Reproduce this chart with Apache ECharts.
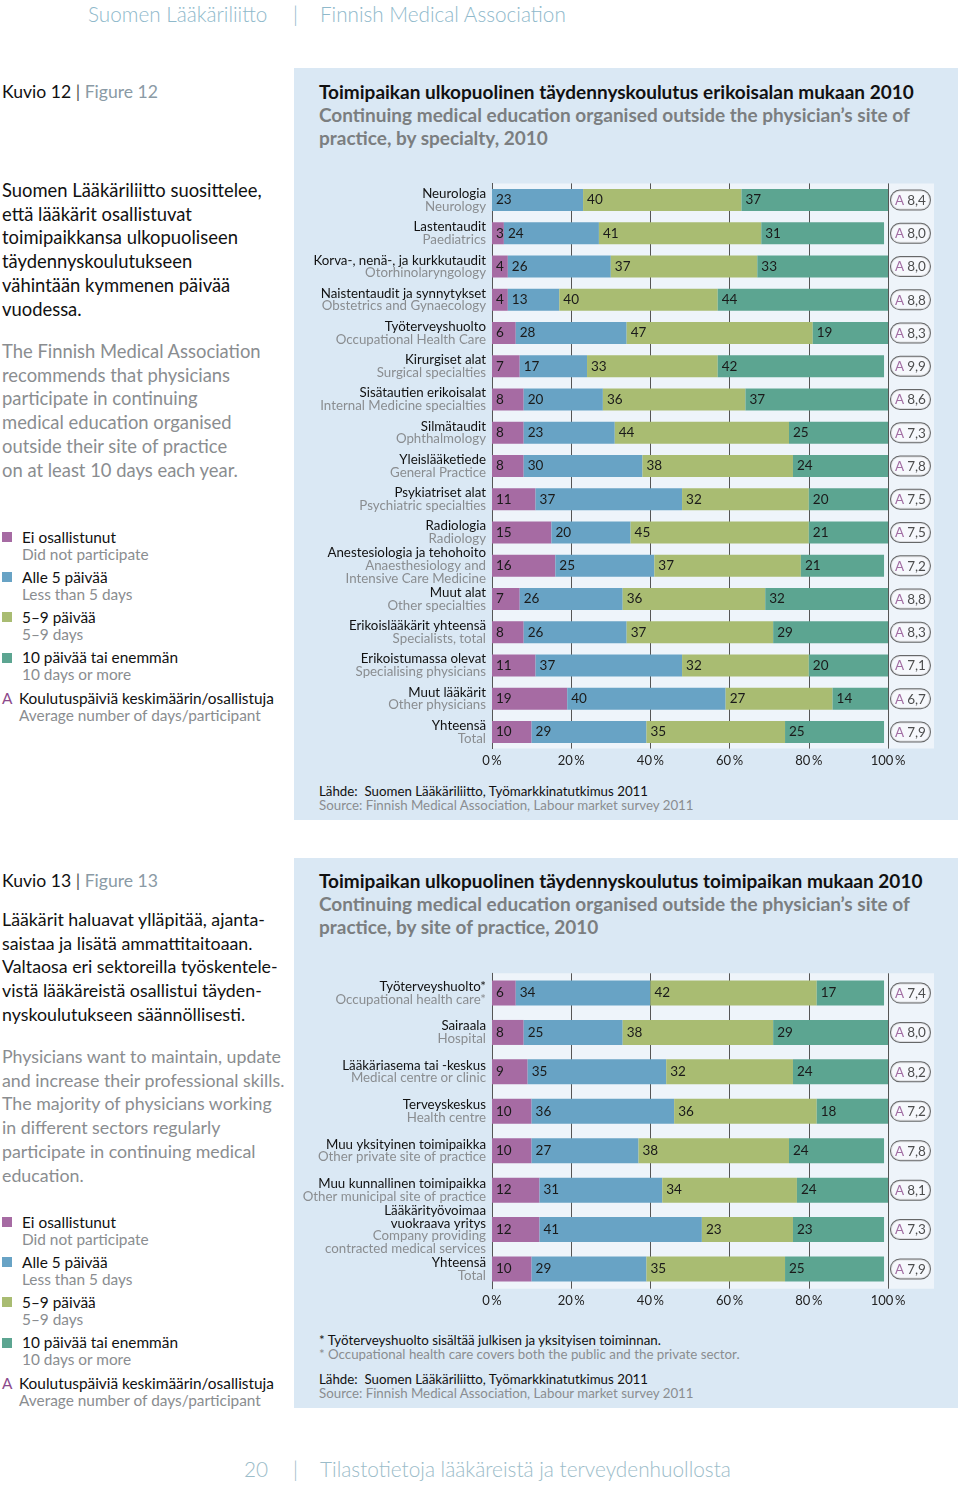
<!DOCTYPE html>
<html><head><meta charset="utf-8">
<script src="https://cdn.jsdelivr.net/npm/echarts@6/dist/echarts.min.js"></script>
<style>
html,body{margin:0;padding:0;background:#fff;}
body{width:960px;height:1487px;position:relative;overflow:hidden;font-family:Lato,"Open Sans","Noto Sans",sans-serif;}
.a{position:absolute;white-space:nowrap;}
.hdr{font-size:20.7px;line-height:24px;color:#8fb9cb;font-weight:300;}
.panel{position:absolute;background:#dae8f4;}
.title{font-size:19px;line-height:23px;font-weight:700;color:#111;}
.title .g{color:#7b7e80;}
.kuvio{font-size:17.6px;line-height:24px;color:#111;}
.kuvio .g{color:#8a9aa5;}
.para{font-size:18.4px;line-height:23.7px;color:#111;}
.para.g{color:#8a8d90;}
.para.s2{font-size:17.8px;}
.leg{font-size:15.4px;line-height:17px;color:#111;}
.leg .g{color:#8a8d90;}
.sq{position:absolute;width:10px;height:10px;}
.src{font-size:13.3px;line-height:14px;color:#111;}
.src .g{color:#8a8d90;}
.ftr{font-size:20.8px;line-height:24px;color:#9bbcc9;font-weight:300;}
</style></head>
<body>
<div class="a hdr" style="left:88px;top:2px;">Suomen Lääkäriliitto</div>
<div class="a hdr" style="left:293px;top:2px;">|</div>
<div class="a hdr" style="left:320px;top:2px;">Finnish Medical Association</div>

<div class="panel" style="left:294px;top:68px;width:664px;height:752px;"></div>
<div class="panel" style="left:294px;top:858px;width:664px;height:550px;"></div>

<div class="a kuvio" style="left:2px;top:80px;">Kuvio 12 <span style="color:#555">|</span> <span class="g">Figure 12</span></div>
<div class="a title" style="left:319px;top:80px;">Toimipaikan ulkopuolinen täydennyskoulutus erikoisalan mukaan 2010<br><span class="g">Continuing medical education organised outside the physician’s site of<br>practice, by specialty, 2010</span></div>

<div class="a para" style="left:2px;top:179px;">Suomen Lääkäriliitto suosittelee,<br>että lääkärit osallistuvat<br>toimipaikkansa ulkopuoliseen<br>täydennyskoulutukseen<br>vähintään kymmenen päivää<br>vuodessa.</div>
<div class="a para g" style="left:2px;top:340px;">The Finnish Medical Association<br>recommends that physicians<br>participate in continuing<br>medical education organised<br>outside their site of practice<br>on at least 10 days each year.</div>

<div id="legend1"></div>

<div id="c1" class="a" style="left:294px;top:170px;width:664px;height:610px;"></div>
<div class="a src" style="left:319px;top:784px;">Lähde:&nbsp;&nbsp;Suomen Lääkäriliitto, Työmarkkinatutkimus 2011<br><span class="g">Source:&nbsp;Finnish Medical Association, Labour market survey 2011</span></div>

<div class="a kuvio" style="left:2px;top:869px;">Kuvio 13 <span style="color:#555">|</span> <span class="g">Figure 13</span></div>
<div class="a title" style="left:319px;top:869px;">Toimipaikan ulkopuolinen täydennyskoulutus toimipaikan mukaan 2010<br><span class="g">Continuing medical education organised outside the physician’s site of<br>practice, by site of practice, 2010</span></div>

<div class="a para s2" style="left:2px;top:908px;">Lääkärit haluavat ylläpitää, ajanta-<br>saistaa ja lisätä ammattitaitoaan.<br>Valtaosa eri sektoreilla työskentele-<br>vistä lääkäreistä osallistui täyden-<br>nyskoulutukseen säännöllisesti.</div>
<div class="a para g s2" style="left:2px;top:1045px;">Physicians want to maintain, update<br>and increase their professional skills.<br>The majority of physicians working<br>in different sectors regularly<br>participate in continuing medical<br>education.</div>

<div id="legend2"></div>

<div id="c2" class="a" style="left:294px;top:960px;width:664px;height:360px;"></div>
<div class="a src" style="left:319px;top:1333px;">* Työterveyshuolto sisältää julkisen ja yksityisen toiminnan.<br><span class="g">* Occupational health care covers both the public and the private sector.</span></div>
<div class="a src" style="left:319px;top:1372px;">Lähde:&nbsp;&nbsp;Suomen Lääkäriliitto, Työmarkkinatutkimus 2011<br><span class="g">Source:&nbsp;Finnish Medical Association, Labour market survey 2011</span></div>

<div class="a ftr" style="left:244px;top:1457px;">20</div>
<div class="a ftr" style="left:293px;top:1457px;">|</div>
<div class="a ftr" style="left:320px;top:1457px;">Tilastotietoja lääkäreistä ja terveydenhuollosta</div>

<script>
// ---------- DATA ----------
const seriesNamesFi = ['Ei osallistunut', 'Alle 5 päivää', '5–9 päivää', '10 päivää tai enemmän'];
const seriesNamesEn = ['Did not participate', 'Less than 5 days', '5–9 days', '10 days or more'];
const avgLabelFi = 'Koulutuspäiviä keskimäärin/osallistuja';
const avgLabelEn = 'Average number of days/participant';
const tickLabels = ['0', '20', '40', '60', '80', '100'];

const cats1Fi = ['Neurologia','Lastentaudit','Korva-, nenä-, ja kurkkutaudit','Naistentaudit ja synnytykset','Työterveyshuolto','Kirurgiset alat','Sisätautien erikoisalat','Silmätaudit','Yleislääketiede','Psykiatriset alat','Radiologia','Anestesiologia ja tehohoito','Muut alat','Erikoislääkärit yhteensä','Erikoistumassa olevat','Muut lääkärit','Yhteensä'];
const cats1En = ['Neurology','Paediatrics','Otorhinolaryngology','Obstetrics and Gynaecology','Occupational Health Care','Surgical specialties','Internal Medicine specialties','Ophthalmology','General Practice','Psychiatric specialties','Radiology','Anaesthesiology and\nIntensive Care Medicine','Other specialties','Specialists, total','Specialising physicians','Other physicians','Total'];
const notPart1 = [0,3,4,4,6,7,8,8,8,11,15,16,7,8,11,19,10];
const under5_1 = [23,24,26,13,28,17,20,23,30,37,20,25,26,26,37,40,29];
const d59_1    = [40,41,37,40,47,33,36,44,38,32,45,37,36,37,32,27,35];
const over10_1 = [37,31,33,44,19,42,37,25,24,20,21,21,32,29,20,14,25];
const avg1     = ['8,4','8,0','8,0','8,8','8,3','9,9','8,6','7,3','7,8','7,5','7,5','7,2','8,8','8,3','7,1','6,7','7,9'];

const cats2Fi = ['Työterveyshuolto*','Sairaala','Lääkäriasema tai -keskus','Terveyskeskus','Muu yksityinen toimipaikka','Muu kunnallinen toimipaikka','Lääkärityövoimaa\nvuokraava yritys','Yhteensä'];
const cats2En = ['Occupational health care*','Hospital','Medical centre or clinic','Health centre','Other private site of practice','Other municipal site of practice','Company providing\ncontracted medical services','Total'];
const notPart2 = [6,8,9,10,10,12,12,10];
const under5_2 = [34,25,35,36,27,31,41,29];
const d59_2    = [42,38,32,36,38,34,23,35];
const over10_2 = [17,29,24,18,24,24,23,25];
const avg2     = ['7,4','8,0','8,2','7,2','7,8','8,1','7,3','7,9'];

// ---------- STYLE ----------
const COLORS = ['#a66ba3', '#68a3c5', '#a9bc72', '#5ca591'];
const AXIS_MAX = 100;
const FONT = 'Lato, "Open Sans", "Noto Sans", sans-serif';

function legendHtml(top) {
  let h = '';
  for (let i = 0; i < 4; i++) {
    const y = top + i * 40.2;
    h += '<div class="sq" style="left:2px;top:' + (y - 5) + 'px;background:' + COLORS[i] + '"></div>';
    h += '<div class="a leg" style="left:22px;top:' + (y - 8.5) + 'px;">' + seriesNamesFi[i] + '<br><span class="g">' + seriesNamesEn[i] + '</span></div>';
  }
  const y = top + 4 * 40.2 + 0.5;
  h += '<div class="a leg" style="left:2px;top:' + (y - 8.5) + 'px;"><span style="color:#8c4a8c">A</span></div>';
  h += '<div class="a leg" style="left:19px;top:' + (y - 8.5) + 'px;">' + avgLabelFi + '<br><span class="g">' + avgLabelEn + '</span></div>';
  return h;
}
document.getElementById('legend1').innerHTML = legendHtml(537);
document.getElementById('legend2').innerHTML = legendHtml(1222);

function makeOption(catsFi, catsEn, vals, avgs, gridTop, gridH, barW) {
  const gridLeft = 198, gridW = 396;
  const series = vals.map((d, k) => ({
    type: 'bar', stack: 'all', name: seriesNamesFi[k], data: d, barWidth: barW,
    itemStyle: { color: COLORS[k] }, z: 3,
    label: {
      show: true, position: 'insideLeft', distance: 4,
      color: '#1a1a1a', fontSize: 13.5, fontFamily: FONT,
      formatter: p => (p.value ? String(p.value) : '')
    }
  }));
  series.push({
    type: 'scatter', symbolSize: 0, z: 5, silent: true,
    data: avgs.map((a, i) => [AXIS_MAX, catsFi[i]]),
    label: {
      show: true, position: 'right', distance: 3,
      formatter: p => '{a|A} {v|' + avgs[p.dataIndex] + '}',
      backgroundColor: '#f7f9fc', borderColor: '#444', borderWidth: 1, borderRadius: 9,
      padding: [3, 4, 2, 4],
      rich: {
        a: { color: '#8c4a8c', fontSize: 13.5, fontFamily: FONT },
        v: { color: '#222', fontSize: 13.5, fontFamily: FONT }
      }
    }
  });
  return {
    animation: false,
    textStyle: { fontFamily: FONT },
    graphic: [{
      type: 'rect', z: -10, silent: true,
      shape: { x: gridLeft, y: gridTop, width: 442, height: gridH },
      style: { fill: '#eef4fa' }
    }],
    grid: { left: gridLeft, top: gridTop, width: gridW, height: gridH },
    xAxis: {
      type: 'value', min: 0, max: AXIS_MAX, interval: 20,
      axisLine: { show: false }, axisTick: { show: false },
      splitLine: { show: true, lineStyle: { color: '#555', width: 1 } },
      axisLabel: {
        margin: 6, color: '#222', fontSize: 13, fontFamily: FONT,
        formatter: (v) => tickLabels[Math.round(v / 20)] + '\u2009%'
      }
    },
    yAxis: {
      type: 'category', inverse: true, data: catsFi,
      axisLine: { show: true, lineStyle: { color: '#555', width: 1 } },
      axisTick: { show: false },
      axisLabel: {
        margin: 6, interval: 0,
        formatter: (v, i) => '{fi|' + catsFi[i] + '}\n{en|' + catsEn[i] + '}',
        rich: {
          fi: { color: '#111', fontSize: 13.3, lineHeight: 12.6, fontFamily: FONT, align: 'right' },
          en: { color: '#8a8d90', fontSize: 13.3, lineHeight: 12.6, fontFamily: FONT, align: 'right' }
        }
      }
    },
    series
  };
}

const c1 = echarts.init(document.getElementById('c1'), null, { renderer: 'canvas' });
c1.setOption(makeOption(cats1Fi, cats1En, [notPart1, under5_1, d59_1, over10_1], avg1, 13.4, 565.2, 22));
const c2 = echarts.init(document.getElementById('c2'), null, { renderer: 'canvas' });
c2.setOption(makeOption(cats2Fi, cats2En, [notPart2, under5_2, d59_2, over10_2], avg2, 13.3, 315.4, 25));
</script>
</body></html>
